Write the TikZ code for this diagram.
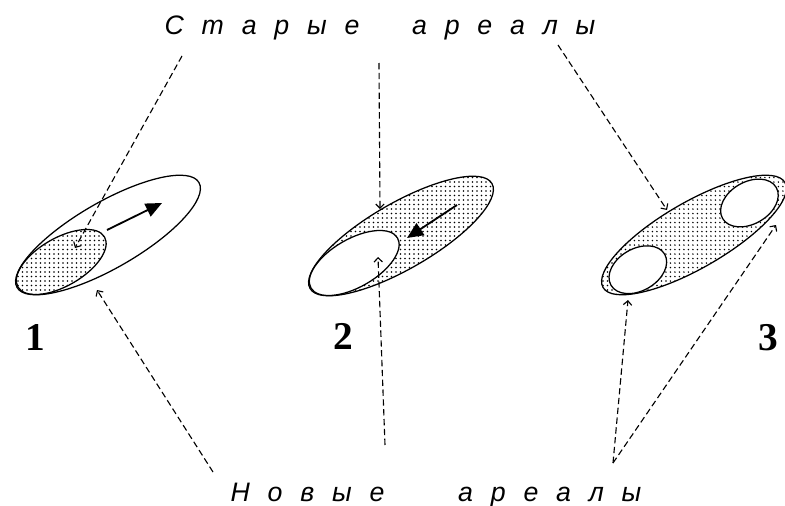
\documentclass[tikz,border=0pt]{standalone}
\usepackage{fontspec}
\setmainfont{Liberation Serif}
\newfontfamily\arealfont[WordSpace=2.4]{Liberation Sans}
\usetikzlibrary{arrows.meta, patterns.meta}

\tikzset{
  rim/.style={line width=0.9pt},
  olddots/.style={pattern={Dots[distance=3.2pt, radius=0.55pt]}},
  pointer/.style={line width=0.8pt, dash pattern=on 4.5pt off 2.5pt, -{Straight Barb[length=3pt, width=6pt]}},
  spread/.style={line width=1.3pt, -{Triangle[length=11.5pt, width=10pt]}},
  numlabel/.style={font=\fontsize{28}{28}\selectfont\bfseries},
  caption/.style={font=\arealfont\itshape\fontsize{19}{22}\selectfont}
}

\begin{document}
\begin{tikzpicture}[x=0.025cm, y=-0.025cm]
\useasboundingbox (0,0) rectangle (785,506);

\begin{scope}[shift={(108,235)}, rotate=30]
\draw[rim] (0,0) ellipse [x radius=105, y radius=33];
\draw[rim, olddots] (-54,0) ellipse [x radius=50, y radius=24];
\end{scope}

\begin{scope}[shift={(401,236)}, rotate=30]
\draw[rim, olddots] (0,0) ellipse [x radius=105, y radius=33];
\filldraw[rim, fill=white] (-54,0) ellipse [x radius=50, y radius=24];
\end{scope}

\begin{scope}[shift={(694,235)}, rotate=30]
\draw[rim, olddots] (0,0) ellipse [x radius=105, y radius=33];
\filldraw[rim, fill=white] (-66,2) ellipse [x radius=31, y radius=21];
\filldraw[rim, fill=white] (64,0) ellipse [x radius=31, y radius=21];
\end{scope}

\node[numlabel] (n1) at (35,338) {1};
\node[numlabel] (n2) at (343,336) {2};
\node[numlabel] (n3) at (768,338) {3};

\node[caption] (old) at (380,28) {С т а р ы е\hspace{1.97em}а р е а л ы};
\node[caption] (new) at (436,495) {Н о в ы е\hspace{2.76em}а р е а л ы};

% shift of the range
\coordinate (s1) at (107,230);
\coordinate (e1) at (162,203);
\coordinate (s2) at (457,205);
\coordinate (e2) at (407,238);
\draw[spread] (s1) -- (e1);
\draw[spread] (s2) -- (e2);

% pointers
\coordinate (old1) at (182,56);
\coordinate (old2) at (379,63);
\coordinate (old3) at (558,45);
\coordinate (new1) at (213,472);
\coordinate (new2) at (385,445);
\coordinate (new3) at (613,463);
\coordinate (a1) at (75,248);
\coordinate (b1) at (97,290);
\coordinate (a2) at (380,209);
\coordinate (b2) at (378,257);
\coordinate (a3) at (667,210);
\coordinate (b3) at (628,300);
\coordinate (c3) at (776,225);

\draw[pointer] (old1) -- (a1);
\draw[pointer] (old2) -- (a2);
\draw[pointer] (old3) -- (a3);
\draw[pointer] (new1) -- (b1);
\draw[pointer] (new2) -- (b2);
\draw[pointer] (new3) -- (b3);
\draw[pointer] (new3) -- (c3);

\end{tikzpicture}
\end{document}
